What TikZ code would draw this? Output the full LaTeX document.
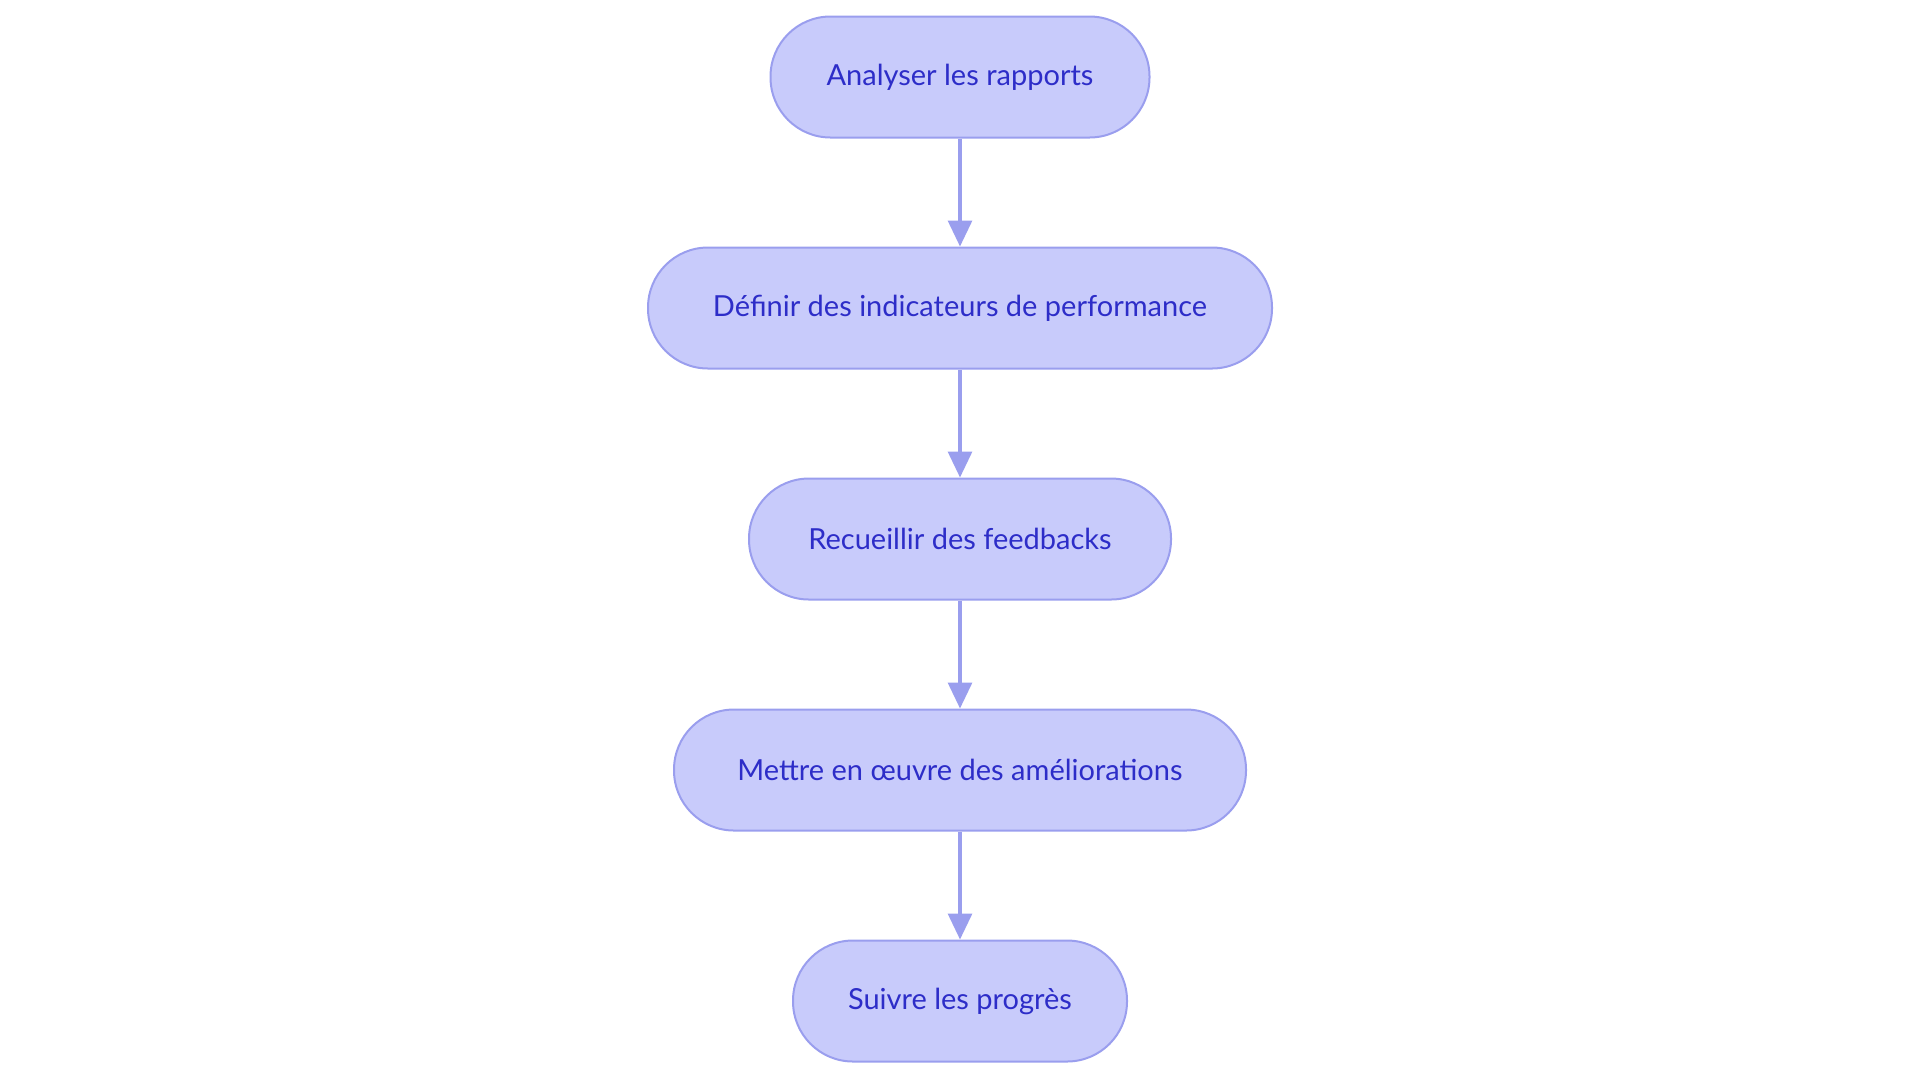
\documentclass[tikz,border=0pt]{standalone}
\usepackage{fontspec}
\setmainfont{Lato}
\usetikzlibrary{arrows.meta}
\definecolor{fillc}{HTML}{C8CBFB}
\definecolor{linec}{HTML}{9A9EEE}
\definecolor{textc}{HTML}{2D2DC8}
\begin{document}
\begin{tikzpicture}[x=0.5pt,y=-0.5pt,
  box/.style={draw=linec,line width=1pt,fill=fillc,rounded corners=30pt,minimum height=60.5pt,inner sep=0pt,text=textc,font=\fontsize{14.5}{17}\selectfont},
  arr/.style={draw=linec,line width=1.6pt,-{Triangle[length=13pt,width=12pt]}}]
\useasboundingbox (0,0) rectangle (1920,1083);
\node[box,minimum width=189.5pt] (a) at (960,77) {Analyser les rapports};
\node[box,minimum width=312pt] (b) at (960,308) {Définir des indicateurs de performance};
\node[box,minimum width=211pt] (c) at (960,539) {Recueillir des feedbacks};
\node[box,minimum width=286pt] (d) at (960,770) {Mettre en œuvre des améliorations};
\node[box,minimum width=167pt] (e) at (960,1001) {Suivre les progrès};
\draw[arr] (a) -- (b);
\draw[arr] (b) -- (c);
\draw[arr] (c) -- (d);
\draw[arr] (d) -- (e);
\end{tikzpicture}
\end{document}
